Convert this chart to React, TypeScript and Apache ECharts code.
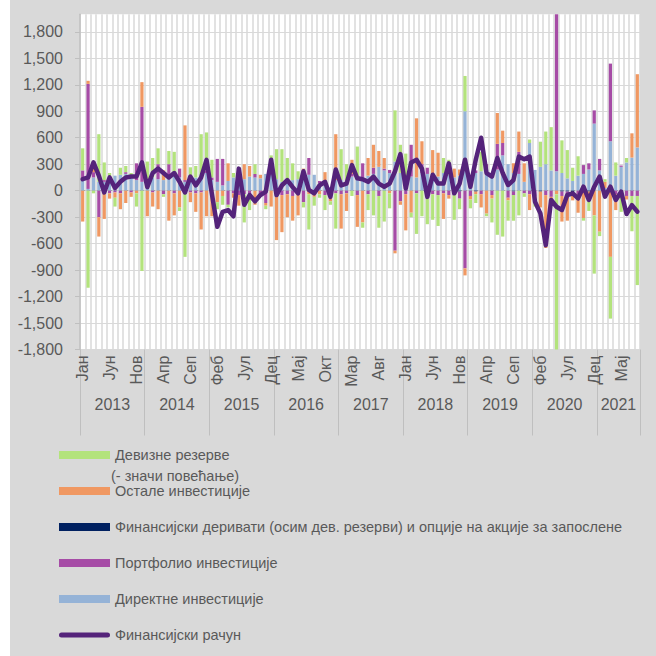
import React, { useEffect, useRef } from 'react';
import * as echarts from 'echarts';

const monthNames = ['Јан', 'Феб', 'Мар', 'Апр', 'Мај', 'Јун', 'Јул', 'Авг', 'Сеп', 'Окт', 'Нов', 'Дец'];
const years = ['2013', '2014', '2015', '2016', '2017', '2018', '2019', '2020', '2021'];
const monthsInLastYear = 8;

const catMonths: string[] = [];
const catYears: string[] = [];
years.forEach((y, yi) => {
  const n = yi === years.length - 1 ? monthsInLastYear : 12;
  for (let m = 0; m < n; m++) {
    catMonths.push(monthNames[m]);
    catYears.push(y);
  }
});

const seriesNames = [
  'Девизне резерве',
  'Остале инвестиције',
  'Финансијски деривати (осим дев. резерви) и опције на акције за запослене',
  'Портфолио инвестиције',
  'Директне инвестиције',
  'Финансијски рачун',
];
const reservesNote = '(- значи повећање)';

const direct = [
  120, 20, 150, 100, 100, 160, 170, 180, 190, 150, 120, 100,
  90, 150, 130, 120, 160, 180, 150, 100, 120, 150, 150, 200,
  120, 100, 60, 110, 150, 130, 130, 160, 150, 140, 190, 260,
  130, 100, 110, 120, 130, 140, 180, 180, 80, 100, 40, 120,
  120, 110, 160, 150, 150, 170, 190, 270, 230, 200, 330, 200,
  150, 160, 150, 200, 190, 200, 160, 200, 180, 150, 170, 900,
  120, 200, 220, 250, 200, 240, 400, 300, 200, 190, 100, 540,
  235, 270, 300, 230, 220, 200, 140, 110, 170, 190, 240, 760,
  230, 30, 560, 170, 270, 320, 375, 490,
];

const derivatives = [
  0, 0, 0, 0, 0, 0, 0, 0, 0, 0, 0, 0,
  0, 0, 0, 0, 0, 0, 0, 0, 0, 0, 0, 0,
  0, 0, 0, 0, 0, 0, 0, 0, 0, 0, 0, 0,
  0, 0, 0, 0, 0, 0, 0, 0, 0, 0, 0, 0,
  0, 0, 0, 0, 0, 0, 0, 0, 0, 0, 0, 0,
  0, 0, 0, 0, 0, 0, 0, 0, 0, -10, -10, 0,
  0, -10, 0, 0, 0, 0, 0, 0, -10, 0, 0, 0,
  0, -10, 0, 0, 0, -10, -10, -20, 0, 0, -10, 0,
  0, 0, 0, 0, 0, 0, 0, 0,
];

const portfolio = [
  110, 1190, 60, -300, 20, -30, -20, -30, 20, -20, 190, 850,
  40, -20, 170, -40, 140, -30, 100, 20, -20, -30, -20, 30,
  30, 260, 300, -160, -30, -50, -40, -60, 40, -40, -140, 20,
  -60, -50, -40, -60, -30, -130, 190, -40, 30, -50, -40, -30,
  -40, -30, 30, -50, 160, -40, 70, -60, 20, 35, -680, -120,
  -40, 360, -30, 100, 70, -40, -50, -30, -50, -40, -80, -880,
  -60, 30, -40, 50, -50, 290, 140, -80, -40, 250, -30, -40,
  -60, 0, -50, -70, 1850, -50, -40, -30, -40, 100, 70, 150,
  130, -30, 880, -40, 15, -60, -60, -60,
];

const other = [
  -350, 35, 40, -220, -320, -60, -60, -180, -140, -50, -30, 280,
  -290, -160, -210, 110, -340, -250, -190, 620, -110, -210, -420, -290,
  -290, -130, -60, 200, -50, -120, 170, 120, -160, 40, -30, -180,
  -500, -420, -260, -280, -250, 110, -40, -30, -40, 110, -80, 520,
  -390, -200, 160, -360, -360, 200, 260, 180, 120, -30, -30, -40,
  -410, -250, 670, 260, -40, 260, 270, -290, -40, 100, 70, -80,
  -40, -30, -150, -260, -40, 350, 140, -30, 110, 230, 210, -180,
  -80, -180, -600, -30, -40, -290, -290, -60, -210, -310, -40, -280,
  -465, 70, -750, -180, -40, -40, 275, 830,
];

const reserves = [
  250, -1100, -30, 540, 200, 40, -100, 80, 70, 50, -150, -910,
  200, 220, 180, -30, 150, 260, -40, -750, 145, 130, 490, 430,
  200, -80, -100, -30, 50, 80, -320, -160, 110, -30, -40, 120,
  340, 370, 260, 190, 90, -60, -400, -100, -40, -170, -40, -400,
  350, 190, -60, 350, -60, -180, -280, -360, -350, -170, 580, 320,
  270, -50, -460, -290, -340, -290, -350, 170, 170, -280, -120, 400,
  -100, -100, 220, -30, -270, -500, -520, -230, -290, -280, -40, 40,
  -40, 285, 370, 490, -1850, 370, 320, 150, 220, -30, -180, -660,
  -50, 30, -700, 150, -200, 50, -400, -1010,
];

const financialAccount = [
  130, 150, 320, 170, -20, 150, 30, 100, 150, 160, 160, 320,
  40, 200, 250, 200, 150, 200, 100, -20, 160, 60, 150, 350,
  -40, -410, -240, -220, -290, 250, -160, -50, -120, -50, -10, 350,
  -50, 60, 120, 40, -30, 220, 10, -30, 60, 100, -70, 240,
  60, 80, 290, 140, 130, 100, 160, 80, 45, 80, 220, 415,
  25, 320, 350, 250, -70, 180, 80, 80, 310, -30, 80, 350,
  45, 350, 600, 200, 160, 370, 200, 64, 120, 386, 356, 386,
  -125, -257, -617, -106, -182, -219, -49, -30, -87, 45, -106, 45,
  159, -68, 45, -106, -11, -265, -163, -238,
];

const yMin = -1800;
const yMax = 2000;
const yInterval = 300;

const COLORS = {
  reserves: '#b3e37c',
  other: '#f09862',
  derivatives: '#002060',
  portfolio: '#a64ca6',
  direct: '#95b3d7',
  line: '#54237a',
  text: '#595959',
  grid: '#d9d9d9',
  axis: '#bfbfbf',
  panel: '#d9d9d9',
};

const FONT = '"Liberation Sans", Arial, sans-serif';

// legend icon for the line: a rounded bar inside an invisible 51x8 box
const LINE_ICON =
  'path://M0,0 L0.01,0 L0,0 Z M51,8 L50.99,8 L51,8 Z M2.5,1.5 L48.5,1.5 A2.5,2.5 0 0 1 48.5,6.5 L2.5,6.5 A2.5,2.5 0 0 1 2.5,1.5 Z';

export default function App() {
  const ref = useRef<HTMLDivElement>(null);

  useEffect(() => {
    document.body.style.margin = '0';
    if (!ref.current) return;
    const chart = echarts.init(ref.current, undefined, { renderer: 'svg' });

    const bandW = (656 - 80 - 16) / catMonths.length;

    const splitColors: string[] = [];
    for (let v = yMin; v <= 1800; v += yInterval) {
      splitColors.push(v === 0 ? '#a6a6a6' : COLORS.grid);
    }
    splitColors.push('rgba(0,0,0,0)');

    const barSeries = (name: string, data: number[], color: string) => ({
      name,
      type: 'bar',
      stack: 'fa',
      data,
      barWidth: '60%',
      itemStyle: { color },
      emphasis: { disabled: true },
    });

    chart.setOption({
      animation: false,
      backgroundColor: COLORS.panel,
      textStyle: { fontFamily: FONT },
      graphic: [
        { type: 'rect', left: 0, top: 0, shape: { width: 10, height: 656 }, style: { fill: '#ffffff' } },
        {
          type: 'text',
          left: 111,
          top: 468,
          style: { text: reservesNote, fill: COLORS.text, font: `14.5px ${FONT}` },
        },
      ],
      grid: {
        left: 80,
        right: 16,
        top: 14.2,
        bottom: 306.5,
        show: true,
        backgroundColor: '#ffffff',
        borderWidth: 0,
        containLabel: false,
      },
      legend: {
        orient: 'vertical',
        left: 54,
        top: 442,
        itemWidth: 51,
        itemHeight: 8,
        itemGap: 20,
        selectedMode: false,
        textStyle: { fontFamily: FONT, fontSize: 14.5, color: COLORS.text, lineHeight: 16 },
        data: [
          { name: seriesNames[0], icon: 'rect' },
          { name: seriesNames[1], icon: 'rect' },
          { name: seriesNames[2], icon: 'rect' },
          { name: seriesNames[3], icon: 'rect' },
          { name: seriesNames[4], icon: 'rect' },
          { name: seriesNames[5], icon: LINE_ICON, itemStyle: { color: COLORS.line, borderWidth: 0 } },
        ],
      },
      xAxis: [
        {
          type: 'category',
          data: catMonths,
          position: 'bottom',
          axisLine: { show: false, onZero: false },
          axisTick: {
            show: true,
            interval: (i: number) => i % 12 === 0,
            length: 86,
            lineStyle: { color: COLORS.axis },
          },
          axisLabel: {
            interval: (i: number) => i % 5 === 0,
            rotate: 90,
            margin: 6,
            fontSize: 16,
            color: COLORS.text,
            fontFamily: FONT,
          },
          splitLine: { show: true, interval: 0, lineStyle: { color: COLORS.grid, width: 1.5 } },
        },
        {
          type: 'category',
          data: catMonths,
          position: 'bottom',
          offset: 47,
          axisLine: { show: false, onZero: false },
          axisTick: { show: false },
          splitLine: { show: false },
          axisLabel: {
            interval: (i: number) => i % 12 === 5 || i === catMonths.length - 1 - monthsInLastYear / 2,
            formatter: (_v: string, i: number) => catYears[i],
            padding: [0, 0, 0, bandW],
            margin: 0,
            fontSize: 16,
            color: COLORS.text,
            fontFamily: FONT,
          },
        },
      ],
      yAxis: {
        type: 'value',
        min: yMin,
        max: yMax,
        interval: yInterval,
        axisLine: { show: true, lineStyle: { color: COLORS.axis, width: 1.5 } },
        axisTick: { show: true, length: 5, lineStyle: { color: COLORS.axis } },
        axisLabel: {
          showMaxLabel: false,
          margin: 17,
          fontSize: 16,
          color: COLORS.text,
          fontFamily: FONT,
          formatter: (v: number) => v.toLocaleString('en-US'),
        },
        splitLine: { show: true, showMaxLine: false, lineStyle: { color: splitColors, width: 1 } },
      },
      series: [
        barSeries(seriesNames[4], direct, COLORS.direct),
        barSeries(seriesNames[2], derivatives, COLORS.derivatives),
        barSeries(seriesNames[3], portfolio, COLORS.portfolio),
        barSeries(seriesNames[1], other, COLORS.other),
        barSeries(seriesNames[0], reserves, COLORS.reserves),
        {
          name: seriesNames[5],
          type: 'line',
          data: financialAccount,
          symbol: 'none',
          z: 5,
          lineStyle: { color: COLORS.line, width: 4.5, join: 'round', cap: 'round' },
          itemStyle: { color: COLORS.line },
          emphasis: { disabled: true },
        },
      ],
    });

    return () => chart.dispose();
  }, []);

  return <div ref={ref} style={{ width: 656, height: 656 }} />;
}
